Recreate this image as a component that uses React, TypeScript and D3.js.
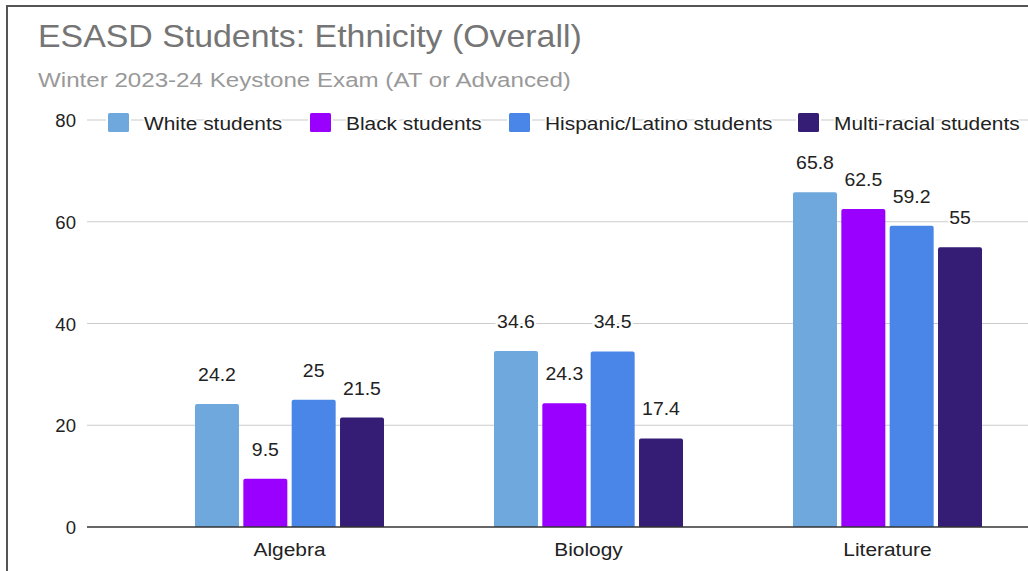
import { useEffect, useRef } from "react";
import * as d3 from "d3";

const subjects = ["Algebra", "Biology", "Literature"];
const groups = ["White students", "Black students", "Hispanic/Latino students", "Multi-racial students"];
const whiteVals = [24.2, 34.6, 65.8];
const blackVals = [9.5, 24.3, 62.5];
const hispanicVals = [25, 34.5, 59.2];
const multiVals = [21.5, 17.4, 55];
const yTicks = [0, 20, 40, 60, 80];
const colors = ["#6fa8dc", "#9900ff", "#4a86e8", "#351c75"];

const W = 1028;
const H = 571;
const FONT = "'Liberation Sans', Arial, sans-serif";

type Sel = d3.Selection<any, any, any, any>;

// text that is a bit wider than the font, as in the reference
function addText(
  parent: Sel,
  x: number,
  y: number,
  txt: string,
  size: number,
  stretch: number,
  fill: string,
  anchor = "start",
  halo = 0
) {
  const g = parent.append("g").attr("transform", `translate(${x},${y}) scale(${stretch},1)`);
  const t = g
    .append("text")
    .attr("text-anchor", anchor)
    .attr("font-family", FONT)
    .attr("font-size", size)
    .attr("fill", fill)
    .text(txt);
  if (halo > 0) {
    t.attr("stroke", "#fff").attr("stroke-width", halo).attr("paint-order", "stroke");
  }
  return g;
}

const App: React.FC = () => {
  const svgRef = useRef<SVGSVGElement | null>(null);

  useEffect(() => {
    document.body.style.margin = "0";
    if (!svgRef.current) return;
    const svg = d3.select(svgRef.current);
    svg.selectAll("*").remove();

    const series = [whiteVals, blackVals, hispanicVals, multiVals];

    const y = d3.scaleLinear().domain([0, 80]).range([527, 120]);
    const x0 = d3.scaleBand().domain(subjects).range([140, 1037]);
    const groupW = 189;
    const x1 = d3.scaleBand().domain(groups).range([0, groupW]).paddingInner(0.09).paddingOuter(0);

    svg.append("rect").attr("width", W).attr("height", H).attr("fill", "#fff");

    // border
    svg
      .append("path")
      .attr("d", `M7,${H} V6 H${W}`)
      .attr("fill", "none")
      .attr("stroke", "#555")
      .attr("stroke-width", 2);

    // titles
    addText(svg, 38, 47, "ESASD Students: Ethnicity (Overall)", 30.5, 1.11, "#757575");
    addText(svg, 38, 87, "Winter 2023-24 Keystone Exam (AT or Advanced)", 21, 1.15, "#999");

    // grid
    svg
      .append("g")
      .selectAll("line")
      .data(yTicks.filter((t) => t > 0))
      .enter()
      .append("line")
      .attr("x1", 87)
      .attr("x2", W)
      .attr("y1", (d) => y(d))
      .attr("y2", (d) => y(d))
      .attr("stroke", "#ccc")
      .attr("stroke-width", 1.2);

    const yAxis = svg.append("g");
    yTicks.forEach((t) => addText(yAxis, 76, y(t) + 7, String(t), 18, 1.03, "#222", "end"));

    // bars
    const barsG = svg.append("g");
    const labelsG = svg.append("g");
    subjects.forEach((s, i) => {
      const gx = (x0(s) || 0) + (x0.bandwidth() - groupW) / 2;
      groups.forEach((g, k) => {
        const v = series[k][i];
        const bx = gx + (x1(g) || 0);
        const bw = x1.bandwidth();
        const top = y(v);
        const bot = y(0);
        const r = 2;
        barsG
          .append("path")
          .attr(
            "d",
            `M${bx},${bot} V${top + r} Q${bx},${top} ${bx + r},${top} H${bx + bw - r} Q${bx + bw},${top} ${bx + bw},${top + r} V${bot} Z`
          )
          .attr("fill", colors[k]);
        addText(labelsG, bx + bw / 2, top - 23, String(v), 18, 1.08, "#222", "middle", 4);
      });
    });

    // baseline
    svg
      .append("line")
      .attr("x1", 87)
      .attr("x2", W)
      .attr("y1", y(0))
      .attr("y2", y(0))
      .attr("stroke", "#333")
      .attr("stroke-width", 1.5);

    // x labels
    const xAxis = svg.append("g");
    subjects.forEach((s) =>
      addText(xAxis, (x0(s) || 0) + x0.bandwidth() / 2, 556, s, 19, 1.1, "#222", "middle")
    );

    // legend
    const legendX = [108, 310, 509, 798];
    const legend = svg.append("g");
    groups.forEach((g, i) => {
      legend
        .append("rect")
        .attr("x", legendX[i] - 2)
        .attr("y", 111)
        .attr("width", 25)
        .attr("height", 23)
        .attr("fill", "#fff");
      legend
        .append("rect")
        .attr("x", legendX[i])
        .attr("y", 113)
        .attr("width", 21)
        .attr("height", 19)
        .attr("rx", 1.5)
        .attr("fill", colors[i]);
      addText(legend, legendX[i] + 36, 129.5, g, 18.5, 1.13, "#222", "start", 3);
    });
  }, []);

  return <svg ref={svgRef} width={W} height={H} style={{ display: "block" }}></svg>;
};

export default App;
